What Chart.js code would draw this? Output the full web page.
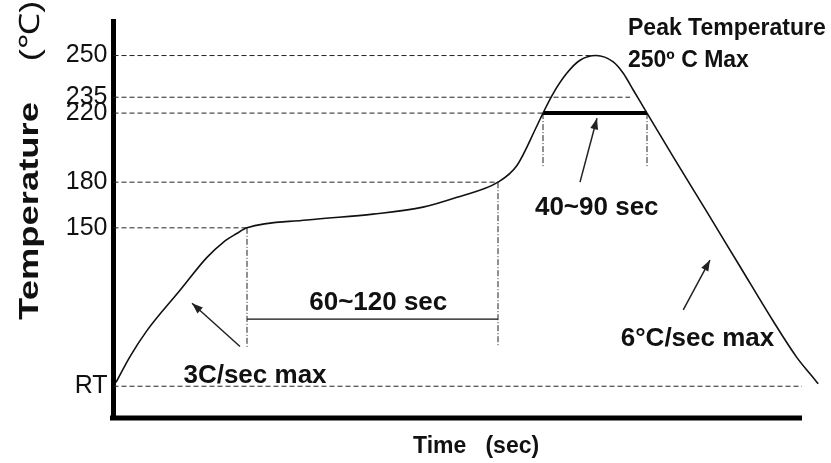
<!DOCTYPE html>
<html>
<head>
<meta charset="utf-8">
<script src="https://cdn.jsdelivr.net/npm/chart.js@4.4.1/dist/chart.umd.min.js"></script>
<style>
  html, body { margin: 0; padding: 0; background: #fff; }
</style>
</head>
<body>
<canvas id="reflowChart" width="831" height="463"></canvas>
<script>
// reflow profile (time in sec, temperature in °C)
const profileTime = [0, 5.6, 12.3, 25.6, 36.3, 42.9, 48.3, 52.4,
  76.4, 102.8, 122.8, 136.4, 152.8,
  160.3, 168.3, 170.8, 174.9, 180.3, 185.6, 192, 198.9, 202.9, 206.9, 212.4,
  222.9, 236.3, 249.6, 262.9, 272.3, 277.6, 280.9];
const profileTemp = [28, 48.4, 68.7, 100.7, 126.5, 138.6, 145.5, 150,
  155.1, 159, 163.6, 170.1, 180,
  189.5, 212.4, 220, 236.4, 243.6, 248.3, 250, 247.7, 243.6, 237.6, 220,
  194.7, 160.6, 119.5, 76.3, 47.8, 34.8, 27];

// labelled temperatures on the y axis (the drawing is schematic, so the axis is not linear)
const tickTemps = [25, 150, 180, 220, 235, 250];
const tickLabels = ['RT', '150', '180', '220', '235', '250'];
const tickLevels = [8.0, 47.9, 59.4, 76.8, 80.8, 91.3]; // where each one sits on a 0-100 axis

// time axis: the drawn axis line stops before the end of the curve
const axisStart = -2.4;
const axisEnd = 274.4;

// dashed guides: temperature and the time where each one stops
const guideTemps = [250, 235, 220, 180, 150, 25];
const guideEnds = [192, 205.6, 170.8, 152.8, 52.4, 274.4];

// soak zone (60~120 sec) and time above liquidus (40~90 sec)
const soakTimes = [52.4, 152.8];
const soakTops = [150, 180];
const soakLow = 56;
const soakBar = 78;
const talTimes = [170.8, 212.4];
const talTemp = 220;
const talLow = 189;

// arrows: tail time, tail temp, tip time, tip temp
const arrows = [
  [49.6, 56.4, 30.4, 90.5],
  [185.6, 180, 192.4, 217],
  [226.9, 85.3, 237.6, 124.6]
];

// notes: text, time, temp (baseline), align, size
const notes = [
  ['3C/sec max', 55.6, 27.4, 'center', 26],
  ['60~120 sec', 104.9, 85.3, 'center', 26],
  ['40~90 sec', 192.3, 158.5, 'center', 26],
  ['6°C/sec max', 232.6, 56.4, 'center', 26],
  ['Peak Temperature', 204.8, 257.3, 'left', 23],
  ['250º C Max', 204.8, 246, 'left', 23]
];

const fontFamily = "'Liberation Sans', Arial, sans-serif";

// temperature -> position on the schematic axis (piecewise between labelled ticks)
function toLevel(t) {
  let i = 1;
  while (i < tickTemps.length - 1 && t > tickTemps[i]) i++;
  const t0 = tickTemps[i - 1], t1 = tickTemps[i];
  const l0 = tickLevels[i - 1], l1 = tickLevels[i];
  return l0 + (t - t0) * (l1 - l0) / (t1 - t0);
}

function seg(x0, t0, x1, t1, style) {
  return Object.assign({
    data: [{ x: x0, y: toLevel(t0) }, { x: x1, y: toLevel(t1) }],
    borderColor: '#222',
    borderWidth: 1,
    pointRadius: 0,
    fill: false,
    clip: false
  }, style);
}

const datasets = [];

// the profile itself (first = drawn on top)
datasets.push({
  data: profileTime.map((s, i) => ({ x: s, y: toLevel(profileTemp[i]) })),
  borderColor: '#111',
  borderWidth: 1.6,
  pointRadius: 0,
  cubicInterpolationMode: 'monotone',
  fill: false,
  clip: false
});

// thick bar at 220 for the time above liquidus
datasets.push(seg(talTimes[0], talTemp, talTimes[1], talTemp, { borderWidth: 4, borderColor: '#000' }));

// arrows
arrows.forEach(a => {
  datasets.push(seg(a[0], a[1], a[2], a[3], { borderWidth: 1.5, borderColor: '#222', arrow: true }));
});

// dashed horizontal guides
guideTemps.forEach((t, i) => {
  datasets.push(seg(-1, t, guideEnds[i], t, { borderDash: [5, 3] }));
});

// dash-dot verticals
soakTimes.forEach((s, i) => {
  datasets.push(seg(s, soakTops[i], s, soakLow, { borderDash: [6, 2, 1, 2] }));
});
talTimes.forEach(s => {
  datasets.push(seg(s, talTemp, s, talLow, { borderDash: [6, 2, 1, 2] }));
});

// soak bracket
datasets.push(seg(soakTimes[0], soakBar, soakTimes[1], soakBar, { borderWidth: 1.3, borderColor: '#111' }));

// the thick time axis line (shorter than the plot area)
datasets.push({
  data: [{ x: axisStart, y: 0 }, { x: axisEnd, y: 0 }],
  borderColor: '#000',
  borderWidth: 5,
  borderCapStyle: 'butt',
  pointRadius: 0,
  fill: false,
  clip: false
});

// arrow heads, notes and axis titles
const decorPlugin = {
  id: 'decor',
  afterDatasetsDraw(chart) {
    const ctx = chart.ctx;
    const xs = chart.scales.x, ys = chart.scales.y;
    const area = chart.chartArea;

    ctx.save();
    chart.data.datasets.forEach((ds, i) => {
      if (!ds.arrow) return;
      const pts = chart.getDatasetMeta(i).data;
      const p0 = pts[0], p1 = pts[1];
      const ang = Math.atan2(p1.y - p0.y, p1.x - p0.x);
      const len = 11, half = 4;
      ctx.fillStyle = '#222';
      ctx.beginPath();
      ctx.moveTo(p1.x, p1.y);
      ctx.lineTo(p1.x - len * Math.cos(ang) + half * Math.sin(ang), p1.y - len * Math.sin(ang) - half * Math.cos(ang));
      ctx.lineTo(p1.x - len * Math.cos(ang) - half * Math.sin(ang), p1.y - len * Math.sin(ang) + half * Math.cos(ang));
      ctx.closePath();
      ctx.fill();
    });

    ctx.fillStyle = '#111';
    ctx.textBaseline = 'alphabetic';
    notes.forEach(n => {
      ctx.font = 'bold ' + n[4] + 'px ' + fontFamily;
      ctx.textAlign = n[3];
      ctx.fillText(n[0], xs.getPixelForValue(n[1]), ys.getPixelForValue(toLevel(n[2])));
    });

    // x title
    ctx.font = 'bold 23px ' + fontFamily;
    ctx.textAlign = 'left';
    ctx.fillText('Time   (sec)', area.left + 299.5, area.bottom + 35);

    // y title, stretched along its length like the original
    ctx.save();
    ctx.translate(area.left - 76, 0);
    ctx.rotate(-Math.PI / 2);
    ctx.scale(1.3, 1);
    ctx.textAlign = 'center';
    ctx.font = 'bold 28px ' + fontFamily;
    ctx.fillText('Temperature', -211 / 1.3, 0);
    ctx.font = '28px ' + fontFamily;
    ctx.fillText('(℃)', -31 / 1.3, 1);
    ctx.restore();

    ctx.restore();
  }
};

const reflowChart = new Chart(document.getElementById('reflowChart'), {
  type: 'line',
  data: { datasets: datasets },
  options: {
    responsive: false,
    animation: false,
    layout: { padding: { left: 0, top: 17, right: 10, bottom: 0 } },
    plugins: {
      legend: { display: false },
      tooltip: { enabled: false }
    },
    scales: {
      x: {
        type: 'linear',
        min: -1,
        max: 282,
        ticks: { display: false },
        grid: { display: false, drawTicks: false },
        border: { display: false },
        afterFit: s => { s.height = 45; }
      },
      y: {
        type: 'linear',
        min: 0,
        max: 100,
        afterBuildTicks: s => { s.ticks = tickLevels.map(v => ({ value: v })); },
        ticks: {
          autoSkip: false,
          padding: 6,
          color: '#111',
          font: { family: fontFamily, size: 25 },
          callback: (v, i) => tickLabels[i]
        },
        grid: { display: false, drawTicks: false },
        border: { display: true, width: 5, color: '#000' },
        afterFit: s => { s.width = 113.5; }
      }
    }
  },
  plugins: [decorPlugin]
});
</script>
</body>
</html>
